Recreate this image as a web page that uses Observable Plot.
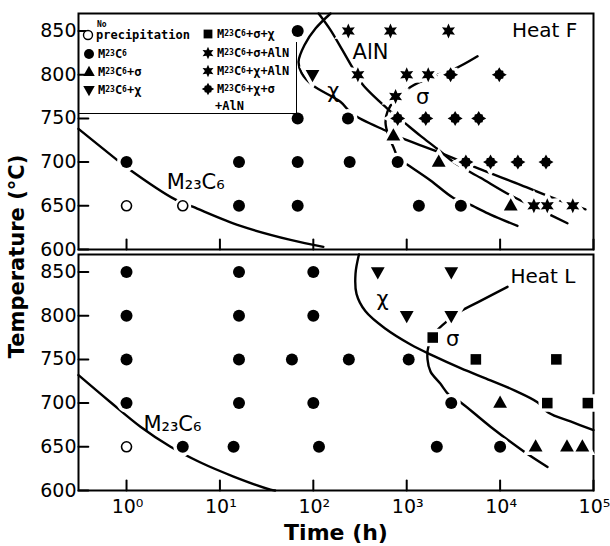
<!DOCTYPE html>
<html><head><meta charset="utf-8">
<script src="https://cdn.jsdelivr.net/npm/d3@7"></script>
<script src="https://cdn.jsdelivr.net/npm/@observablehq/plot@0.6"></script>
<style>
body{margin:0;background:#fff;}
#wrap{position:relative;width:610px;height:546px;}
.lg{position:absolute;font-family:"DejaVu Sans Mono",monospace;font-weight:bold;font-size:12px;line-height:14px;white-space:nowrap;color:#000;display:flex;align-items:center;}
.lg sub{font-size:8px;vertical-align:-2px;line-height:0}
.lg svg{margin-right:1px}
.ln{position:absolute;background:#000}
</style></head><body><div id="wrap"></div>
<script>
// ---------- tick values ----------
const xTicks = [1, 10, 100, 1000, 10000, 100000];
const yTicks = [600, 650, 700, 750, 800, 850];
const heats = ["F", "L"];

// ---------- Heat F points [time (h), temperature (°C)] ----------
const F_none = [[1,650],[4,650]];
const F_M23C6 = [[68,850],[68,750],[235,750],[1,700],[16,700],[68,700],[245,700],[800,700],[16,650],[68,650],[1350,650],[3800,650]];
const F_sigma = [[720,730],[2200,700],[13000,650]];
const F_chi = [[98,800]];
const F_sigmaChi = [];
const F_sigmaAlN = [[23000,650],[32000,650],[60000,650]];
const F_chiAlN = [[237,850],[670,850],[2800,850],[300,800],[1000,800],[1700,800],[760,775]];
const F_chiSigmaAlN = [[2950,800],[9800,800],[800,750],[1600,750],[3300,750],[5900,750],[4300,700],[7900,700],[15500,700],[31000,700]];

// ---------- Heat L points ----------
const L_none = [[1,650]];
const L_M23C6 = [[1,850],[16,850],[100,850],[1,800],[16,800],[100,800],[1,750],[16,750],[59,750],[240,750],[1050,750],[1,700],[16,700],[100,700],[3000,700],[4,650],[14,650],[115,650],[2100,650],[10000,650]];
const L_sigma = [[10000,700],[24000,650],[52000,650],[76000,650]];
const L_chi = [[490,850],[3000,850],[1000,800],[3000,800]];
const L_sigmaChi = [[1900,775],[5500,750],[40000,750],[32000,700],[87000,700]];

// ---------- boundary curves ----------
const F_curveM23C6 = [[0.306,738],[0.76,704],[1.03,693],[3.35,657],[5.1,649],[16.6,627],[57,611],[128,603]];
const F_curveChi = [[153,870],[106,853],[80.5,834],[69.5,815],[74.8,802],[98,788],[195,769],[263,755],[623,735],[859,728],[2135,712],[5730,693],[16500,674],[41200,657],[82000,646]];
const F_curveAlN = [[114,870],[153,851],[205,828],[263,808],[336,789],[623,761],[925,746],[1406,730],[2135,715],[3170,700],[6170,682],[12900,662],[27100,645],[52600,630]];
const F_curveSigma = [[5730,821],[3170,806],[1800,797],[1100,786],[760,772],[623,758],[593,745],[638,730],[722,717],[817,704],[1020,697],[1800,679],[3170,659],[4820,651],[7890,640],[15350,627]];
const L_curveM23C6 = [[0.306,732],[0.674,701],[1.41,673],[2.96,650],[6.2,632],[14,616],[34.8,601],[39,600]];
const L_curveChi = [[308,870],[283,848],[290,825],[362,805],[593,785],[1100,767],[1935,754],[3770,740],[7890,726],[14600,714],[25100,701],[33000,689],[56700,679],[100000,669]];
const L_curveSigma = [[12000,833],[6170,817],[3770,805],[2730,794],[2030,781],[1710,765],[1670,750],[1800,736],[2300,722],[2800,710],[3770,701],[7890,673],[17800,645],[32200,627]];

// ---------- curve labels ----------
const labelText = ["M₂₃C₆", "χ", "AlN", "σ", "M₂₃C₆", "χ", "σ"];
const labelHeat = ["F", "F", "F", "F", "L", "L", "L"];
const labelPos = [[5.5,677],[164,781],[410,826],[1480,774],[3.1,676],[551,819],[3100,773]];
const heatNames = ["Heat F", "Heat L"];
const heatNamePos = [[67000,851],[64000,845]];

// ---------- symbols ----------
function poly(fn){ return {draw(ctx, size){ const r = Math.sqrt(size/Math.PI); const p = fn(r); ctx.moveTo(p[0][0], p[0][1]); for (let i = 1; i < p.length; i++) ctx.lineTo(p[i][0], p[i][1]); ctx.closePath(); }}; }
const circleSym = {draw(ctx, size){ const r = Math.sqrt(size/Math.PI); ctx.moveTo(r,0); ctx.arc(0,0,r,0,2*Math.PI); }};
const triUp = poly(r => [[0,-1.25*r],[1.15*r,0.78*r],[-1.15*r,0.78*r]]);
const triDown = poly(r => [[0,1.25*r],[1.15*r,-0.78*r],[-1.15*r,-0.78*r]]);
const squareSym = poly(r => [[-0.88*r,-0.88*r],[0.88*r,-0.88*r],[0.88*r,0.88*r],[-0.88*r,0.88*r]]);
const star6 = poly(r => d3.range(12).map(i => { const a = Math.PI*i/6 - Math.PI/2, q = i % 2 ? 0.62*r : 1.25*r; return [q*Math.cos(a), q*Math.sin(a)]; }));
const starRound = poly(r => d3.range(16).map(i => { const a = Math.PI*i/8 - Math.PI/2, q = i % 4 === 0 ? 1.25*r : i % 2 === 0 ? 0.92*r : 0.78*r; return [q*Math.cos(a), q*Math.sin(a)]; }));

const kinds = [
  {key:"none", sym:circleSym, F:F_none, L:L_none, label:"No precipitation"},
  {key:"m", sym:circleSym, F:F_M23C6, L:L_M23C6, label:"M<sub>23</sub>C<sub>6</sub>"},
  {key:"s", sym:triUp, F:F_sigma, L:L_sigma, label:"M<sub>23</sub>C<sub>6</sub>+σ"},
  {key:"c", sym:triDown, F:F_chi, L:L_chi, label:"M<sub>23</sub>C<sub>6</sub>+χ"},
  {key:"sc", sym:squareSym, F:F_sigmaChi, L:L_sigmaChi, label:"M<sub>23</sub>C<sub>6</sub>+σ+χ"},
  {key:"sa", sym:star6, F:F_sigmaAlN, L:[], label:"M<sub>23</sub>C<sub>6</sub>+σ+AlN"},
  {key:"ca", sym:star6, F:F_chiAlN, L:[], label:"M<sub>23</sub>C<sub>6</sub>+χ+AlN"},
  {key:"csa", sym:starRound, F:F_chiSigmaAlN, L:[], label:"M<sub>23</sub>C<sub>6</sub>+χ+σ"}
];
kinds.forEach(k => { k.data = heats.flatMap(h => k[h].map(([t,T]) => ({t, T, heat:h}))); });

const curveSets = [["F",F_curveM23C6],["F",F_curveChi],["F",F_curveAlN],["F",F_curveSigma],["L",L_curveM23C6],["L",L_curveChi],["L",L_curveSigma]];
const curves = curveSets.flatMap(([h, pts], id) => pts.map(([t,T]) => ({t, T, heat:h, id})));
const labels = labelText.map((s,i) => ({s, heat:labelHeat[i], t:labelPos[i][0], T:labelPos[i][1]}));
const heatLabels = heatNames.map((s,i) => ({s, heat:heats[i], t:heatNamePos[i][0], T:heatNamePos[i][1]}));
// inward tick segments, one set per panel, drawn as two-point lines
const yTickSegs = heats.flatMap(h => yTicks.flatMap(v => [{t: 0.306, T: v, heat: h, id: h + v}, {t: 0.39, T: v, heat: h, id: h + v}]));
const xTickSegs = heats.flatMap(h => xTicks.flatMap(v => [{t: v, T: 600, heat: h, id: h + "x" + v}, {t: v, T: 611.5, heat: h, id: h + "x" + v}]));

const sup = "⁰¹²³⁴⁵⁶⁷⁸⁹";
const fmtX = d => "10" + sup[Math.round(Math.log10(d))];

const chart = Plot.plot({
  width: 610, height: 546,
  marginLeft: 78, marginRight: 17, marginTop: 13, marginBottom: 55,
  style: {fontFamily: "DejaVu Sans", fontSize: "19px", color: "black", background: "white", overflow: "visible"},
  x: {type: "log", domain: [0.306, 100000]},
  y: {domain: [600, 870]},
  fy: {domain: heats, axis: null, paddingInner: 0.02, paddingOuter: 0, label: null},
  marks: [
    Plot.frame({strokeWidth: 2}),
    Plot.axisY({ticks: yTicks, tickSize: 0, tickPadding: 2, fontSize: 19, label: null}),
    Plot.axisX({ticks: xTicks, tickSize: 0, tickPadding: 9, tickFormat: fmtX, fontSize: 19, dx: 1, label: null}),
    Plot.line(yTickSegs, {x: "t", y: "T", z: "id", fy: "heat", stroke: "black", strokeWidth: 2}),
    Plot.line(xTickSegs, {x: "t", y: "T", z: "id", fy: "heat", stroke: "black", strokeWidth: 2}),
    Plot.line(curves, {x: "t", y: "T", z: "id", fy: "heat", curve: "catmull-rom", strokeWidth: 2.4}),
    ...kinds.map(k => Plot.dot(k.data, {x: "t", y: "T", fy: "heat", symbol: k.sym, r: k.key === "none" ? 5 : 6, fill: "white", stroke: "white", strokeWidth: 7})),
    ...kinds.map(k => k.key === "none"
      ? Plot.dot(k.data, {x: "t", y: "T", fy: "heat", symbol: k.sym, r: 5, fill: "white", stroke: "black", strokeWidth: 1.6})
      : Plot.dot(k.data, {x: "t", y: "T", fy: "heat", symbol: k.sym, r: 6, fill: "black"})),
    Plot.text(labels, {x: "t", y: "T", fy: "heat", text: "s", fontSize: 21}),
    Plot.text(heatLabels, {x: "t", y: "T", fy: "heat", text: "s", fontSize: 20, textAnchor: "end"}),
    Plot.text([{heat: "L", s: "Time (h)"}], {fy: "heat", text: "s", frameAnchor: "bottom", textAnchor: "middle", lineAnchor: "middle", dy: 42, fontSize: 22, fontWeight: "bold"}),
    Plot.text([{heat: "F", s: "Temperature (°C)"}], {fy: "heat", text: "s", frameAnchor: "bottom-left", textAnchor: "middle", lineAnchor: "middle", rotate: -90, dx: -61, dy: 7, fontSize: 21, fontWeight: "bold"})
  ]
});
const wrap = document.getElementById("wrap");
wrap.appendChild(chart);

// ---------- legend (inside the Heat F panel) ----------
function symSvg(sym, r, open){
  const p = d3.path(); sym.draw(p, Math.PI*r*r);
  const s = 2*Math.ceil(r*1.3)+2;
  return `<svg width="${s}" height="${s}" viewBox="${-s/2} ${-s/2} ${s} ${s}"><path d="${p}" fill="${open ? "white" : "black"}" stroke="${open ? "black" : "none"}" stroke-width="1.4"/></svg>`;
}
const legendPos = [[81,35],[81,53],[81,71],[81,89],[200,33],[200,52],[200,70],[200,88]];
kinds.forEach((k,i) => {
  const d = document.createElement("div");
  d.className = "lg";
  d.style.left = legendPos[i][0] + "px";
  d.style.top = (legendPos[i][1] - 7) + "px";
  let txt = k.label;
  if (k.key === "none") txt = `<span style="position:relative">precipitation<span style="position:absolute;left:1px;top:-7px;font-size:8px;line-height:8px">No</span></span>`;
  d.innerHTML = symSvg(k.sym, k.key === "none" ? 4.5 : 5, k.key === "none") + txt;
  wrap.appendChild(d);
});
const extra = document.createElement("div");
extra.className = "lg"; extra.style.left = "215px"; extra.style.top = "99px"; extra.textContent = "+AlN";
wrap.appendChild(extra);
const h = document.createElement("div"); h.className = "ln";
Object.assign(h.style, {left: "78px", top: "113px", width: "219px", height: "1.3px"}); wrap.appendChild(h);
const v = document.createElement("div"); v.className = "ln";
Object.assign(v.style, {left: "296px", top: "42px", width: "1.3px", height: "72px"}); wrap.appendChild(v);
</script></body></html>
